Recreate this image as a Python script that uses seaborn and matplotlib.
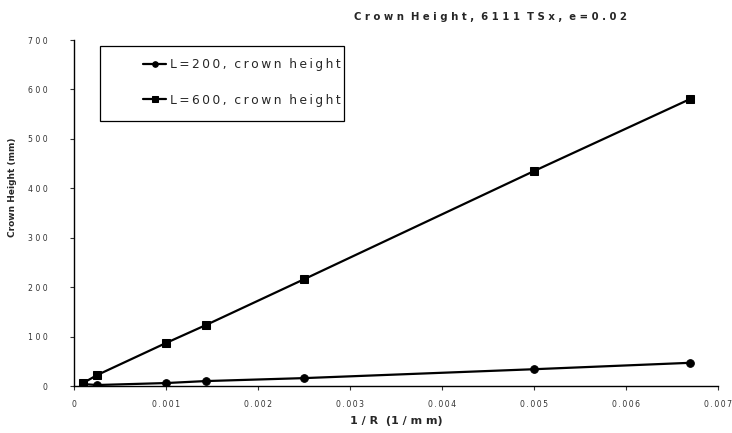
import matplotlib
matplotlib.use("Agg")
import matplotlib.pyplot as plt
from matplotlib.patches import Rectangle
from matplotlib.ticker import FuncFormatter, MultipleLocator
import seaborn as sns
import pandas as pd

# Curvature 1/R (1/mm) and crown height (mm) for two chord lengths
inv_r_200 = [0.0001, 0.00025, 0.001, 0.00143, 0.0025, 0.005, 0.0067]
height_200 = [4, 2, 6, 10, 16, 34, 47]
inv_r_600 = [0.0001, 0.00025, 0.001, 0.00143, 0.0025, 0.005, 0.0067]
height_600 = [6, 22, 87, 123, 216, 435, 581]
series_names = ["L=200, crown height", "L=600, crown height"]


def spaced(text, gap=" "):
    """Widen lettering the way the old report typeface looks."""
    words = text.split(" ")
    return "  ".join(gap.join(w) for w in words)


labels = [spaced(s, "\u2009") for s in series_names]
df = pd.concat([
    pd.DataFrame({"inv_r": inv_r_200, "height": height_200, "series": labels[0]}),
    pd.DataFrame({"inv_r": inv_r_600, "height": height_600, "series": labels[1]}),
])

sns.set_theme(style="white")
plt.rcParams["font.family"] = ["DejaVu Sans"]

fig = plt.figure(figsize=(7.32, 4.33), dpi=100)
ax = fig.add_axes([0.101, 0.1085, 0.880, 0.799])

sns.lineplot(
    data=df, x="inv_r", y="height", hue="series", style="series",
    palette={labels[0]: "black", labels[1]: "black"},
    markers={labels[0]: "o", labels[1]: "s"},
    dashes=False, linewidth=1.6, markersize=5.5, markeredgecolor="black",
    sort=False, ax=ax,
)

ax.set_xlim(0, 0.007)
ax.set_ylim(0, 700)
ax.xaxis.set_major_locator(MultipleLocator(0.001))
ax.yaxis.set_major_locator(MultipleLocator(100))


def fmt_x(v, _):
    if abs(v) < 1e-12:
        return "0"
    return "\u2009".join(f"{v:.3f}")


def fmt_y(v, _):
    return " ".join(f"{int(round(v))}")


ax.xaxis.set_major_formatter(FuncFormatter(fmt_x))
ax.yaxis.set_major_formatter(FuncFormatter(fmt_y))
ax.tick_params(axis="both", labelsize=5.6, colors="#333333", length=3, width=0.8,
               direction="out", bottom=True, left=True)
ax.tick_params(axis="x", pad=7)
ax.tick_params(axis="y", pad=16)

for side in ("top", "right"):
    ax.spines[side].set_visible(False)
for side in ("left", "bottom"):
    ax.spines[side].set_color("black")
    ax.spines[side].set_linewidth(1.0)

ax.set_xlabel(" ".join("1/R") + "  (" + " ".join("1/m") + " m)", fontsize=8,
              fontweight="bold", labelpad=5)
ax.set_ylabel("Crown Height (mm)", fontsize=6.5, fontweight="bold")
ax.yaxis.set_label_coords(-0.088, 0.575)

fig.text(0.67, 0.96, spaced("Crown Height, 6111 TSx, e=0.02"), fontsize=7.3,
         fontweight="bold", ha="center", va="center")

# Legend box drawn on its own so the entries can sit with a wide left margin
ax.add_patch(Rectangle((0.1366, 0.7206), 0.3333, 0.1732, transform=fig.transFigure,
                       facecolor="white", edgecolor="black", linewidth=0.9,
                       zorder=3, clip_on=False))
leg = ax.legend(loc="upper left", bbox_to_anchor=(143 / 732, 1 - 58 / 433),
                bbox_transform=fig.transFigure, fontsize=8.8, frameon=False,
                handlelength=1.9, borderpad=0, borderaxespad=0,
                labelspacing=1.85, handletextpad=0.3, title=None)
leg.set_zorder(5)
for h in leg.legend_handles:
    h.set_markersize(4)

fig.savefig("out.png", dpi=100, facecolor="white")
